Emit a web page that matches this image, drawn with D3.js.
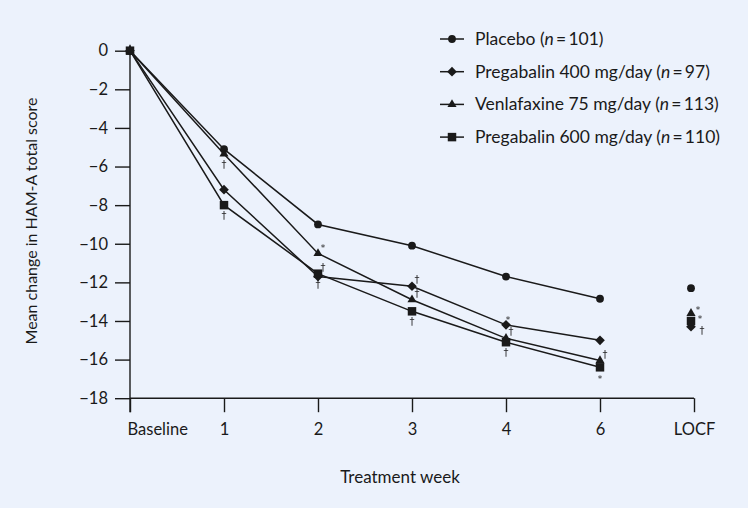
<!DOCTYPE html>
<html>
<head>
<meta charset="utf-8">
<script src="https://cdn.jsdelivr.net/npm/d3@7"></script>
<style>
  html, body { margin: 0; padding: 0; background: #ecf2fc; }
  svg { display: block; }
  text { font-family: Lato, "Open Sans", sans-serif; fill: #1a1a1a; }
  text.mark { font-family: "DejaVu Sans", "Liberation Sans", sans-serif; }
  g.marks { opacity: 0.99; will-change: transform; }
</style>
</head>
<body>
<svg id="chart" width="748" height="508"></svg>
<script>
// ---- data ----
const weeks = ["Baseline", "1", "2", "3", "4", "6", "LOCF"];
const seriesNames = ["Placebo", "Pregabalin 400 mg/day", "Venlafaxine 75 mg/day", "Pregabalin 600 mg/day"];
const seriesN = [101, 97, 113, 110];
const placebo     = [0, -5.1, -9.0, -10.1, -11.7, -12.85];
const pregabalin400 = [0, -7.2, -11.7, -12.2, -14.2, -15.0];
const venlafaxine = [0, -5.35, -10.5, -12.9, -14.9, -16.05];
const pregabalin600 = [0, -8.0, -11.55, -13.5, -15.1, -16.4];
const locfValues  = [-12.3, -14.3, -13.6, -14.0];
const yTicks = [0, -2, -4, -6, -8, -10, -12, -14, -16, -18];
// significance marks: series index, week, symbol, placement
const marks = [
  {s: 2, w: "1", sym: "†", at: "below"},
  {s: 3, w: "1", sym: "†", at: "below"},
  {s: 2, w: "2", sym: "*", at: "aboveRight"},
  {s: 3, w: "2", sym: "†", at: "aboveRight"},
  {s: 3, w: "2", sym: "†", at: "below"},
  {s: 1, w: "3", sym: "†", at: "aboveRight"},
  {s: 2, w: "3", sym: "†", at: "aboveRight"},
  {s: 3, w: "3", sym: "†", at: "below"},
  {s: 1, w: "4", sym: "*", at: "above"},
  {s: 2, w: "4", sym: "†", at: "aboveRight"},
  {s: 3, w: "4", sym: "†", at: "below"},
  {s: 2, w: "6", sym: "†", at: "aboveRight"},
  {s: 3, w: "6", sym: "*", at: "below"},
  {s: 2, w: "LOCF", sym: "*", at: "right1"},
  {s: 3, w: "LOCF", sym: "*", at: "right2"},
  {s: 1, w: "LOCF", sym: "†", at: "right3"}
];

const allSeries = [placebo, pregabalin400, venlafaxine, pregabalin600];
const ink = "#1a1a1a";

const svg = d3.select("#chart");
const x = d3.scalePoint().domain(weeks).range([130, 694]);
const y = d3.scaleLinear().domain([-18, 0]).range([398.2, 50.7]);

// symbols
const symTypes = [d3.symbolCircle, d3.symbolDiamond2, d3.symbolTriangle, d3.symbolSquare];
const symSizes = [48, 60, 36, 72];
const symPath = i => d3.symbol().type(symTypes[i]).size(symSizes[i])();

// axes
const yAxis = d3.axisLeft(y).tickValues(yTicks).tickSize(15).tickPadding(7)
  .tickFormat(d => d === 0 ? "0" : "\u2212" + Math.abs(d));
const gy = svg.append("g").attr("transform", "translate(130,0)").call(yAxis);
gy.select(".domain").attr("stroke", ink).attr("stroke-width", 1.4).attr("d", `M0,${y(0)-6}V${y(-18)+14}`);
gy.selectAll(".tick line").attr("stroke", ink).attr("stroke-width", 1.4);
gy.selectAll(".tick text").attr("font-size", 16.5).attr("fill", ink);

const xAxis = d3.axisBottom(x).tickSize(14).tickPadding(11);
const gx = svg.append("g").attr("transform", `translate(0,${y(-18)})`).call(xAxis);
gx.select(".domain").attr("stroke", ink).attr("stroke-width", 1.4).attr("d", `M130,0H${x("LOCF")}`);
gx.selectAll(".tick line").attr("stroke", ink).attr("stroke-width", 1.4);
gx.selectAll(".tick text").attr("font-size", 16.5).attr("fill", ink)
  .filter(d => d === "Baseline").attr("text-anchor", "start").attr("dx", -3);

svg.append("text").attr("x", 400).attr("y", 483).attr("text-anchor", "middle")
  .attr("font-size", 17).text("Treatment week");
svg.append("text").attr("transform", "translate(37,221) rotate(-90)").attr("text-anchor", "middle")
  .attr("font-size", 16).text("Mean change in HAM-A total score");

// lines
const line = d3.line().x((d, i) => x(weeks[i])).y(d => y(d));
allSeries.forEach((vals, si) => {
  svg.append("path").datum(vals).attr("d", line).attr("fill", "none")
    .attr("stroke", ink).attr("stroke-width", 1.5);
});
// markers
allSeries.forEach((vals, si) => {
  svg.append("g").selectAll("path").data(vals).join("path")
    .attr("d", symPath(si)).attr("fill", ink)
    .attr("transform", (d, i) => `translate(${x(weeks[i])},${y(d)})`);
});
// LOCF markers
locfValues.forEach((v, si) => {
  svg.append("path").attr("d", symPath(si)).attr("fill", ink)
    .attr("transform", `translate(${x("LOCF") - 3},${y(v)})`);
});

// significance marks
const offs = {below: [0, 10], aboveRight: [5, -7], above: [2, -7],
              right1: [7, -5], right2: [9, -4], right3: [11, 3]};
const gm = svg.append("g").attr("class", "marks");
marks.forEach(m => {
  const wi = weeks.indexOf(m.w);
  const v = m.w === "LOCF" ? locfValues[m.s] : allSeries[m.s][wi];
  const o = offs[m.at];
  const xx = x(m.w) + (m.w === "LOCF" ? -3 : 0) + o[0];
  const star = m.sym === "*";
  gm.append("text").attr("class", "mark").attr("x", xx).attr("y", y(v) + o[1] + (star ? 5 : 4))
    .attr("text-anchor", "middle").attr("font-size", star ? 9 : 10)
    .attr("fill", star ? "#666" : "#333").text(m.sym);
});

// legend
const lg = svg.append("g");
seriesNames.forEach((name, i) => {
  const yy = 39 + i * 32.7;
  lg.append("line").attr("x1", 440).attr("x2", 464).attr("y1", yy).attr("y2", yy)
    .attr("stroke", ink).attr("stroke-width", 1.5);
  lg.append("path").attr("d", symPath(i)).attr("fill", ink).attr("transform", `translate(452,${yy})`);
  const t = lg.append("text").attr("x", 475).attr("y", yy + 6).attr("font-size", 17.5);
  t.append("tspan").text(name + "\u00a0(");
  t.append("tspan").attr("font-style", "italic").text("n");
  t.append("tspan").text("\u2009=\u2009" + seriesN[i] + ")");
});
</script>
</body>
</html>
